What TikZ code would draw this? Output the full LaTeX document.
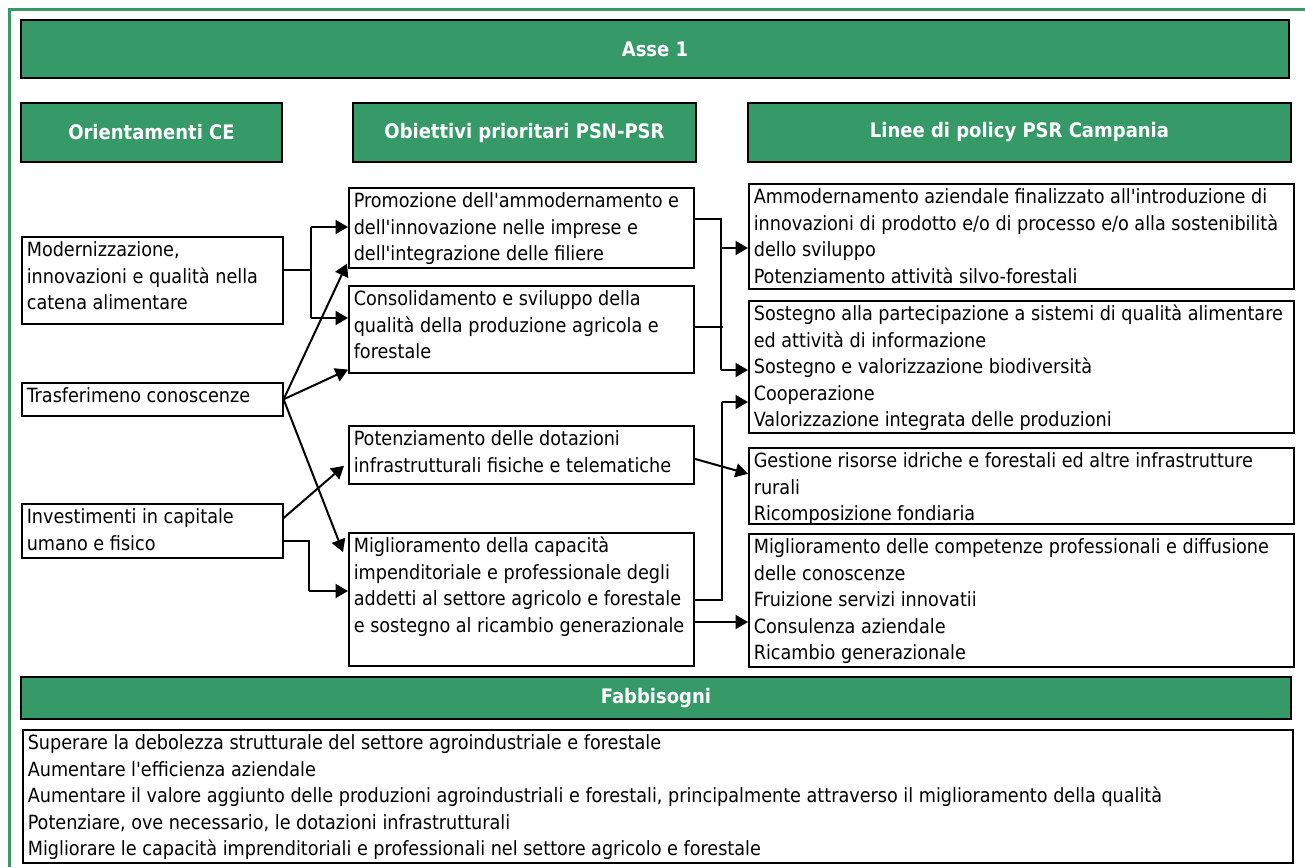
\documentclass[tikz,border=0pt]{standalone}
\usepackage{fontspec}
\setmainfont{DejaVu Sans Condensed}
\usetikzlibrary{arrows.meta,calc}
\definecolor{hdrgreen}{RGB}{54,153,104}

% text block of a given outer width/height, set from the top
\newcommand\boxtxt[3]{\parbox[t][#2pt][t]{\dimexpr#1pt-10pt\relax}{\raggedright\hyphenpenalty=10000\rule{0pt}{20pt}#3}}

\begin{document}
\begin{tikzpicture}[x=1pt,y=-1pt,
  every node/.style={font=\fontsize{19.6}{26.4}\selectfont},
  frame/.style={draw=hdrgreen, line width=3pt},
  hdr/.style={draw=black, line width=1.6pt, fill=hdrgreen, text=white,
    font=\fontsize{20}{26.4}\selectfont\bfseries, inner sep=0pt},
  tbox/.style={draw=black, line width=1.6pt, fill=white, anchor=north west,
    inner xsep=5pt, inner ysep=0pt},
  conn/.style={draw=black, line width=2pt},
  arr/.style={conn, -{Triangle[length=12.5pt,width=14pt]}},
]
\useasboundingbox (0,0) rectangle (1305,867);

% green page frame
\draw[frame] (9.5,867) -- (9.5,9.5) -- (1305,9.5);

% headers
\node[hdr, minimum width=1268pt, minimum height=58pt] (asse) at (655,49) {Asse 1};
\node[hdr, minimum width=261pt, minimum height=59pt] (hce) at (151.5,132.5) {Orientamenti CE};
\node[hdr, minimum width=343pt, minimum height=59pt] (hob) at (524.5,132.5) {Obiettivi prioritari PSN-PSR};
\node[hdr, minimum width=543pt, minimum height=59pt] (hli) at (1019.5,132.5) {Linee di policy PSR Campania};
\node[hdr, minimum width=1270pt, minimum height=42pt] (hfb) at (656,698) {Fabbisogni};

% left column
\node[tbox] (mod) at (21,236) {\boxtxt{261}{87}{Modernizzazione,\\innovazioni e qualità nella\\catena alimentare}};
\node[tbox] (tra) at (21,382) {\boxtxt{261}{33}{Trasferimeno conoscenze}};
\node[tbox] (inv) at (21,503) {\boxtxt{261}{54}{Investimenti in capitale\\umano e fisico}};

% middle column
\node[tbox] (p1) at (348,187) {\boxtxt{345}{80}{Promozione dell\textquotesingle ammodernamento e\\dell\textquotesingle innovazione nelle imprese e\\dell\textquotesingle integrazione delle filiere}};
\node[tbox] (p2) at (348,285) {\boxtxt{345}{87}{Consolidamento e sviluppo della\\qualità della produzione agricola e\\forestale}};
\node[tbox] (p3) at (348,425) {\boxtxt{345}{58}{Potenziamento delle dotazioni\\infrastrutturali fisiche e telematiche}};
\node[tbox] (p4) at (348,532) {\boxtxt{345}{133}{Miglioramento della capacità\\impenditoriale e professionale degli\\addetti al settore agricolo e forestale\\e sostegno al ricambio generazionale}};

% right column
\node[tbox] (r1) at (748,183) {\boxtxt{545}{105}{Ammodernamento aziendale finalizzato all\textquotesingle introduzione di\\innovazioni di prodotto e/o di processo e/o alla sostenibilità\\dello sviluppo\\Potenziamento attività silvo-forestali}};
\node[tbox] (r2) at (748,300) {\boxtxt{545}{132}{Sostegno alla partecipazione a sistemi di qualità alimentare\\ed attività di informazione\\Sostegno e valorizzazione biodiversità\\Cooperazione\\Valorizzazione integrata delle produzioni}};
\node[tbox] (r3) at (748,447) {\boxtxt{545}{76}{Gestione risorse idriche e forestali ed altre infrastrutture\\rurali\\Ricomposizione fondiaria}};
\node[tbox] (r4) at (748,533) {\boxtxt{545}{133}{Miglioramento delle competenze professionali e diffusione\\delle conoscenze\\Fruizione servizi innovatii\\Consulenza aziendale\\Ricambio generazionale}};

% needs
\node[tbox] (fb) at (22,729) {\boxtxt{1270}{133}{Superare la debolezza strutturale del settore agroindustriale e forestale\\Aumentare l\textquotesingle efficienza aziendale\\Aumentare il valore aggiunto delle produzioni agroindustriali e forestali, principalmente attraverso il miglioramento della qualità\\Potenziare, ove necessario, le dotazioni infrastrutturali\\Migliorare le capacità imprenditoriali e professionali nel settore agricolo e forestale}};

% junction points
\coordinate (ja0) at (311,270);
\coordinate (ja1) at (311,227);
\coordinate (ja2) at (311,318);
\coordinate (jb0) at (309,541);
\coordinate (jb1) at (309,591);
\coordinate (jc0) at (721,219);
\coordinate (jc1) at (721,248);
\coordinate (jc2) at (721,370);
\coordinate (jc3) at (723,327);
\coordinate (jd0) at (722,600);
\coordinate (jd1) at (722,402);
\coordinate (je0) at (693,622);

% Orientamenti -> Obiettivi
\draw[conn] (mod.east |- ja0) -- (ja0);
\draw[conn] (ja1) -- (ja2);
\draw[arr] (ja1) -- (p1.west |- ja1);
\draw[arr] (ja2) -- (p2.west |- ja2);
\draw[arr] (tra.east) -- ($(p1.south west)+(-1,-5)$);
\draw[arr] (tra.east) -- ($(p2.south west)+(0,-4)$);
\draw[arr] (tra.east) -- ($(p4.north west)+(-5,20)$);
\draw[arr] ($(inv.north east)+(0,15)$) -- ($(p3.west)+(-4,11)$);
\draw[conn] (inv.east |- jb0) -- (jb0) -- (jb1);
\draw[arr] (jb1) -- (p4.west |- jb1);

% Obiettivi -> Linee di policy
\draw[conn] (p1.east |- jc0) -- (jc0) -- (jc2);
\draw[arr] (jc1) -- (r1.west |- jc1);
\draw[arr] (jc2) -- (r2.west |- jc2);
\draw[conn] (p2.east |- jc3) -- (jc3);
\draw[conn] (p4.east |- jd0) -- (jd0) -- (jd1);
\draw[arr] (jd1) -- (r2.west |- jd1);
\draw[arr] ($(p3.east)+(0,4)$) -- ($(r3.west)+(0,-12)$);
\draw[arr] (p4.east |- je0) -- (r4.west |- je0);
\end{tikzpicture}
\end{document}
